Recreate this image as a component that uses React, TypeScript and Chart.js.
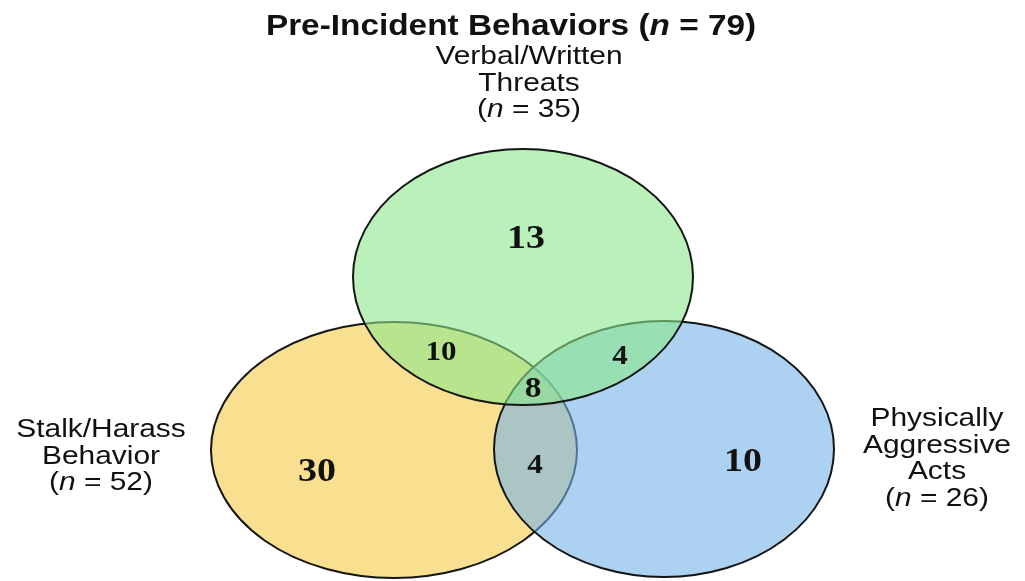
import React, { useEffect, useRef } from "react";
import { Chart, registerables } from "chart.js";

Chart.register(...registerables);

// ---- data ----
const titleText = "Pre-Incident Behaviors";
const totalN = 79;
const setNames = [["Stalk/Harass", "Behavior"], ["Physically", "Aggressive", "Acts"], ["Verbal/Written", "Threats"]];
const setTotals = [52, 26, 35];
// regions: S only, P only, V only, S∩V, V∩P, S∩P, S∩V∩P
const regionNames = ["S", "P", "V", "SV", "VP", "SP", "SVP"];
const regionCounts = [30, 10, 13, 10, 4, 4, 8];

// ---- layout (positions / sizes, in chart units = page px) ----
const ellipses = [
  { cx: 394, cy: 450, rx: 183, ry: 128, fill: "rgba(245,202,70,0.6)" },
  { cx: 664, cy: 449, rx: 170, ry: 128, fill: "rgba(118,180,232,0.6)" },
  { cx: 523, cy: 277, rx: 170, ry: 128, fill: "rgba(140,232,140,0.6)" },
];
const regionPos = [
  { x: 317, y: 472, size: 33 },
  { x: 743, y: 462, size: 33 },
  { x: 526, y: 239, size: 33 },
  { x: 441, y: 353, size: 27 },
  { x: 620, y: 357, size: 27 },
  { x: 535, y: 466, size: 27 },
  { x: 533, y: 390, size: 29 },
];
const labelPos = [
  { x: 101, y: 437 },
  { x: 937, y: 426 },
  { x: 529, y: 64 },
];
const LINE_H = 26.5;
const LABEL_SIZE = 26;
const SX = 1.15;
const SANS = "'Liberation Sans', Arial, sans-serif";
const SERIF = "'Liberation Serif', 'Times New Roman', serif";

type Part = { t: string; italic?: boolean };

function drawRich(ctx: CanvasRenderingContext2D, parts: Part[], x: number, y: number, size: number, bold: boolean) {
  const font = (it?: boolean) => `${it ? "italic " : ""}${bold ? "bold " : ""}${size}px ${SANS}`;
  let total = 0;
  const widths = parts.map((p) => {
    ctx.font = font(p.italic);
    const w = ctx.measureText(p.t).width;
    total += w;
    return w;
  });
  ctx.save();
  ctx.translate(x, y);
  ctx.scale(SX, 1);
  ctx.textAlign = "left";
  ctx.textBaseline = "alphabetic";
  ctx.fillStyle = "#111";
  let cur = -total / 2;
  parts.forEach((p, i) => {
    ctx.font = font(p.italic);
    ctx.fillText(p.t, cur, 0);
    cur += widths[i];
  });
  ctx.restore();
}

const vennPlugin = {
  id: "venn",
  beforeDatasetsDraw(chart: any) {
    const ctx: CanvasRenderingContext2D = chart.ctx;
    const xs = chart.scales.x;
    const ys = chart.scales.y;
    ellipses.forEach((e) => {
      const px = xs.getPixelForValue(e.cx);
      const py = ys.getPixelForValue(e.cy);
      const prx = Math.abs(xs.getPixelForValue(e.cx + e.rx) - px);
      const pry = Math.abs(ys.getPixelForValue(e.cy + e.ry) - py);
      ctx.save();
      ctx.beginPath();
      ctx.ellipse(px, py, prx, pry, 0, 0, Math.PI * 2);
      ctx.fillStyle = e.fill;
      ctx.fill();
      ctx.lineWidth = 2;
      ctx.strokeStyle = "#151515";
      ctx.stroke();
      ctx.restore();
    });
  },
  afterDatasetsDraw(chart: any) {
    const ctx: CanvasRenderingContext2D = chart.ctx;
    const xs = chart.scales.x;
    const ys = chart.scales.y;
    // region counts
    const meta = chart.getDatasetMeta(0);
    meta.data.forEach((pt: any, i: number) => {
      const size = regionPos[i].size;
      ctx.save();
      ctx.translate(pt.x, pt.y);
      ctx.scale(SX, 1);
      ctx.font = `bold ${size}px ${SERIF}`;
      ctx.fillStyle = "#111";
      ctx.textAlign = "center";
      ctx.textBaseline = "middle";
      ctx.fillText(String(regionCounts[i]), 0, 0);
      ctx.restore();
    });
    // title
    drawRich(ctx, [{ t: titleText + " (" }, { t: "n", italic: true }, { t: ` = ${totalN})` }], xs.getPixelForValue(511), ys.getPixelForValue(35), 29, true);
    // set labels
    setNames.forEach((lines, i) => {
      const lx = xs.getPixelForValue(labelPos[i].x);
      lines.forEach((ln, j) => {
        drawRich(ctx, [{ t: ln }], lx, ys.getPixelForValue(labelPos[i].y + j * LINE_H), LABEL_SIZE, false);
      });
      drawRich(
        ctx,
        [{ t: "(" }, { t: "n", italic: true }, { t: ` = ${setTotals[i]})` }],
        lx,
        ys.getPixelForValue(labelPos[i].y + lines.length * LINE_H),
        LABEL_SIZE,
        false
      );
    });
  },
};

export default function App() {
  const ref = useRef<HTMLCanvasElement>(null);
  useEffect(() => {
    if (!ref.current) return;
    const chart = new Chart(ref.current, {
      type: "scatter",
      data: {
        datasets: [
          {
            label: "Regions",
            data: regionNames.map((_, i) => ({ x: regionPos[i].x, y: regionPos[i].y })),
            pointRadius: 0,
            pointHoverRadius: 0,
          },
        ],
      },
      options: {
        animation: false,
        responsive: false,
        events: [],
        layout: { padding: 0 },
        plugins: { legend: { display: false }, title: { display: false }, tooltip: { enabled: false } },
        scales: {
          x: { type: "linear", min: 0, max: 1025, display: false },
          y: { type: "linear", min: 0, max: 581, reverse: true, display: false },
        },
      },
      plugins: [vennPlugin],
    });
    return () => chart.destroy();
  }, []);
  return (
    <div style={{ position: "absolute", left: 0, top: 0, width: 1025, height: 581, background: "#fff" }}>
      <canvas ref={ref} width={1025} height={581} />
    </div>
  );
}
